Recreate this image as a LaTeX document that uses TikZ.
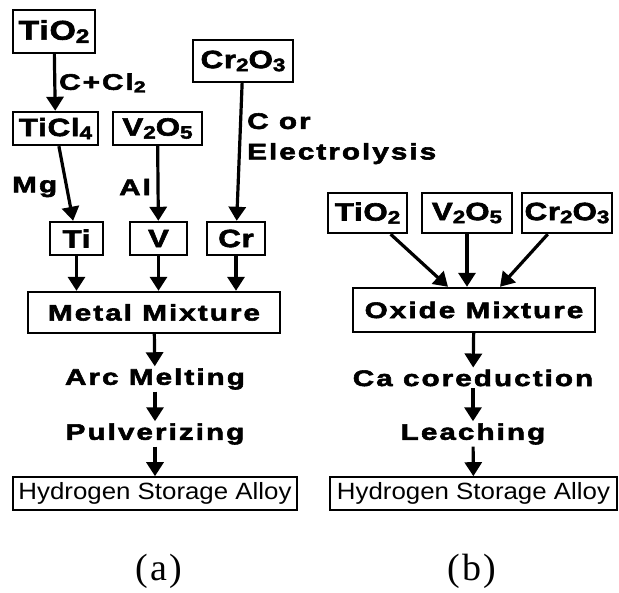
\documentclass[tikz,border=0pt]{standalone}
\usepackage{fontspec}
\usetikzlibrary{arrows.meta}
\newfontfamily\blk[FakeStretch=1.32,LetterSpace=9,FakeBold=2.5]{Liberation Sans Bold}
\newfontfamily\blkbox[FakeStretch=1.25,LetterSpace=3,FakeBold=2.5]{Liberation Sans Bold}
\newfontfamily\reg[FakeStretch=1.1]{Liberation Sans}
\newfontfamily\capt{Liberation Serif}
\newcommand{\dn}[1]{\raisebox{-0.12em}{\scalebox{0.72}{#1}}}
\tikzset{
  chem/.style={draw, line width=2.4pt, inner sep=0pt, minimum height=33pt,
    font=\blkbox\fontsize{25}{25}\selectfont},
  mixbox/.style={draw, line width=2.4pt, inner sep=0pt, minimum height=41pt,
    font=\blk\fontsize{22.5}{22.5}\selectfont},
  alloy/.style={draw, line width=1.6pt, inner sep=0pt, minimum height=33pt,
    font=\reg\fontsize{23.5}{23.5}\selectfont},
  stage/.style={inner sep=2pt, font=\blk\fontsize{22.5}{22.5}\selectfont},
  lbl/.style={inner sep=0pt, font=\blk\fontsize{22.5}{22.5}\selectfont},
  capt/.style={font=\capt\fontsize{38}{38}\selectfont},
  flow/.style={line width=3.2pt, -{Triangle[length=14pt,width=17pt]}}
}

\begin{document}
\begin{tikzpicture}[x=1pt,y=-1pt]
  \useasboundingbox (0,0) rectangle (619,593);
  % (a) metal route
  \node[chem, minimum width=82pt, minimum height=43pt, font=\blkbox\fontsize{27}{27}\selectfont] (tiOa) at (54,31.5) {TiO\dn{2}};
  \node[chem, minimum width=85pt] (tiCl) at (55.5,128.5) {TiCl\dn{4}};
  \node[chem, minimum width=89pt] (vOa) at (157.5,128.5) {V\dn{2}O\dn{5}};
  \node[chem, minimum width=100pt, minimum height=42pt] (crOa) at (243,61) {Cr\dn{2}O\dn{3}};
  \node[chem, minimum width=53pt] (ti) at (76.5,238.5) {Ti};
  \node[chem, minimum width=57pt] (v) at (158.5,238.5) {V};
  \node[chem, minimum width=58pt] (cr) at (236,238.5) {Cr};
  \node[mixbox, minimum width=252pt] (metal) at (154,312.5) {Metal Mixture};
  \node[stage] (arc) at (155,379) {Arc Melting};
  \node[stage] (pulv) at (155,434) {Pulverizing};
  \node[alloy, minimum width=284pt] (alloyA) at (155,493.5) {Hydrogen Storage Alloy};
  \node[capt] (capA) at (159,571) {(\hspace{2pt}a\hspace{2pt})};

  \node[lbl, anchor=west] (ccl) at (59,83) {C+Cl\dn{2}};
  \node[lbl, anchor=west] (mg) at (12,187) {Mg};
  \node[lbl, anchor=west] (al) at (119,187) {Al};
  \node[lbl, anchor=north west, align=left] (celec) at (247,113)
    {C or\\[8pt]Electrolysis};

  \draw[flow] (tiOa) -- (tiCl);
  \draw[flow] (tiCl) -- (ti);
  \draw[flow] (vOa) -- (v);
  \draw[flow] (crOa) -- (cr);
  \draw[flow] (ti) -- (ti |- metal.north);
  \draw[flow] (v) -- (v |- metal.north);
  \draw[flow] (cr) -- (cr |- metal.north);
  \draw[flow] (metal) -- (arc);
  \draw[flow] (arc) -- (pulv);
  \draw[flow] (pulv) -- (alloyA);

  % (b) oxide route
  \node[chem, minimum width=79pt, minimum height=40pt] (tiOb) at (367.5,213) {TiO\dn{2}};
  \node[chem, minimum width=90pt, minimum height=40pt] (vOb) at (467,213) {V\dn{2}O\dn{5}};
  \node[chem, minimum width=90pt, minimum height=40pt] (crOb) at (567,213) {Cr\dn{2}O\dn{3}};
  \node[mixbox, minimum width=242pt, minimum height=44pt] (oxide) at (474,310) {Oxide Mixture};
  \node[stage] (ca) at (473,378) {Ca coreduction};
  \node[stage] (leach) at (473,434) {Leaching};
  \node[alloy, minimum width=287pt] (alloyB) at (473.5,493.5) {Hydrogen Storage Alloy};
  \node[capt] (capB) at (472,571) {(\hspace{2pt}b\hspace{2pt})};

  \draw[flow] (tiOb) -- ([xshift=-26pt]oxide.north);
  \draw[flow] (vOb) -- (vOb |- oxide.north);
  \draw[flow] (crOb) -- ([xshift=26pt]oxide.north);
  \draw[flow] (oxide) -- (ca);
  \draw[flow] (ca) -- (leach);
  \draw[flow] (leach) -- (alloyB);
\end{tikzpicture}
\end{document}
